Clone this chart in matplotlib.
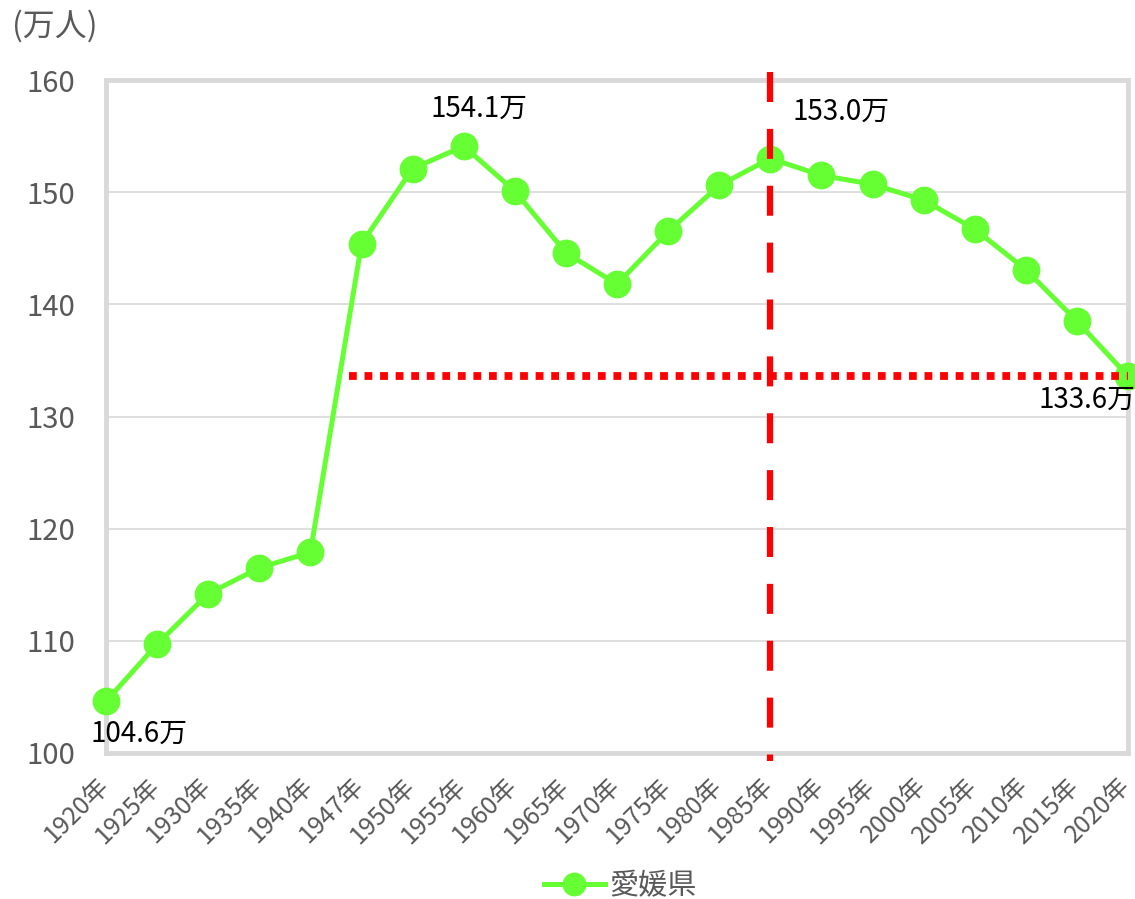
import matplotlib
matplotlib.use("Agg")
import matplotlib.pyplot as plt
from matplotlib.transforms import ScaledTranslation

plt.rcParams['font.family'] = ['Noto Sans CJK JP', 'DejaVu Sans']

# data
years = ["1920年", "1925年", "1930年", "1935年", "1940年", "1947年", "1950年",
         "1955年", "1960年", "1965年", "1970年", "1975年", "1980年", "1985年",
         "1990年", "1995年", "2000年", "2005年", "2010年", "2015年", "2020年"]
population = [104.6, 109.7, 114.2, 116.5, 117.9, 145.4, 152.1,
              154.1, 150.1, 144.6, 141.8, 146.5, 150.6, 153.0,
              151.5, 150.7, 149.3, 146.7, 143.1, 138.5, 133.6]
series_name = "愛媛県"
y_ticks = [100, 110, 120, 130, 140, 150, 160]

# labelled points: (index, text)
peak_idx = 13
labels = [(0, "104.6万"), (7, "154.1万"), (13, "153.0万"), (20, "133.6万")]

green = "#66FF33"
grey_txt = "#595959"
grid_c = "#D9D9D9"

fig = plt.figure(figsize=(11.35, 8.99), dpi=100)
ax = fig.add_axes([106/1135, 1-753/899, (1128-106)/1135, (753-80)/899])

x = list(range(len(years)))
ax.plot(x, population, color=green, lw=3.6, marker='o', markersize=19,
        label=series_name, zorder=3, clip_on=False)

ax.set_xlim(0, len(years) - 1)
ax.set_ylim(100, 160)
ax.set_yticks(y_ticks)
ax.set_xticks(x)
ax.set_xticklabels(years, rotation=45, ha='right', va='center', rotation_mode='anchor')
ax.tick_params(axis='y', length=0, pad=22, labelsize=21, labelcolor=grey_txt)
ax.tick_params(axis='x', length=0, pad=21, labelsize=18, labelcolor=grey_txt)
shift = ScaledTranslation(-1/100, 0, fig.dpi_scale_trans)
for lbl in ax.get_xticklabels():
    lbl.set_transform(lbl.get_transform() + shift)

ax.grid(axis='y', color=grid_c, lw=1.2, zorder=0)
ax.set_axisbelow(True)
for sp in ax.spines.values():
    sp.set_color(grid_c)
    sp.set_linewidth(3.5)

# reference lines
ax.plot([peak_idx, peak_idx], [1.012, -0.012], transform=ax.get_xaxis_transform(),
        color="#FF0000", lw=4.5, linestyle=(0, (4.8, 4.3)), dash_capstyle='butt',
        clip_on=False, zorder=4)
ax.plot([4.75, len(years) - 1], [population[-1]] * 2, color="#FF0000", lw=5.6,
        linestyle=(0, (1, 1)), dash_capstyle='butt', zorder=4, clip_on=False)

# value labels
offsets = {0: (-11, -23, 'left'), 7: (11, 27, 'center'),
           13: (16, 34, 'left'), 20: (5, -17, 'right')}
for i, txt in labels:
    dx, dy, ha = offsets[i]
    ax.annotate(txt, (i, population[i]), xytext=(dx, dy), textcoords='offset points',
                ha=ha, va='center', fontsize=20, color='black', zorder=5)

fig.text(12/1135, 1-26/899, "(万人)", fontsize=23, color=grey_txt, va='center', ha='left')

fig.legend(loc='center', bbox_to_anchor=(620/1135, 1-886/899), frameon=False,
           fontsize=21, handlelength=2.1, handletextpad=0.15, markerscale=0.85,
           labelcolor=grey_txt)

fig.savefig("out.png", dpi=100)
